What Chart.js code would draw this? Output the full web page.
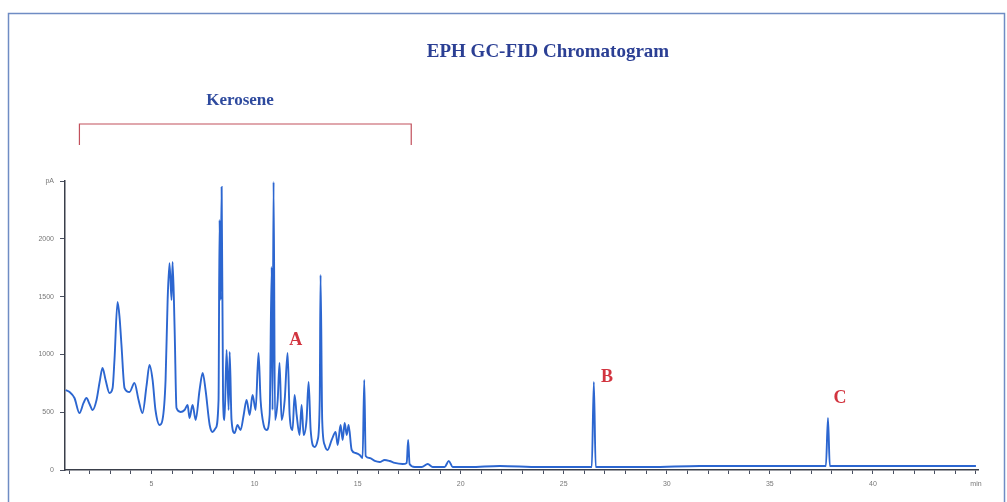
<!DOCTYPE html>
<html>
<head>
<meta charset="utf-8">
<script src="https://cdn.jsdelivr.net/npm/chart.js@4/dist/chart.umd.min.js"></script>
<style>
  html, body { margin: 0; padding: 0; background: #fff; }
  #wrap { width: 1007px; height: 502px; position: relative; }
</style>
</head>
<body>
<div id="wrap"><canvas id="chromatogram" width="1007" height="502"></canvas></div>
<script>
// retention time (min) and detector signal (pA)
var retentionTime = [0.83, 1.02, 1.26, 1.50, 1.70, 1.84, 1.99, 2.14, 2.33, 2.48, 2.62, 2.77, 2.96, 3.11, 3.20, 3.35, 3.45, 3.54, 3.69, 3.93,
    4.17, 4.37, 4.56, 4.76, 4.90, 5.05, 5.19, 5.39, 5.53, 5.68, 5.78, 5.87, 5.97, 6.02, 6.12, 6.21, 6.41, 6.60, 6.75, 6.84,
    6.99, 7.14, 7.33, 7.48, 7.62, 7.82, 7.96, 8.11, 8.25, 8.30, 8.35, 8.40, 8.47, 8.54, 8.64, 8.74, 8.79, 8.88, 9.03, 9.17,
    9.32, 9.47, 9.61, 9.76, 9.90, 10.05, 10.19, 10.29, 10.44, 10.58, 10.73, 10.83, 10.87, 10.92, 10.99, 11.12, 11.21, 11.31, 11.46, 11.60,
    11.70, 11.84, 11.94, 12.04, 12.18, 12.28, 12.38, 12.52, 12.62, 12.72, 12.91, 13.06, 13.16, 13.20, 13.28, 13.40, 13.54, 13.74, 13.93, 14.03,
    14.17, 14.27, 14.37, 14.47, 14.56, 14.71, 14.90, 15.10, 15.24, 15.32, 15.39, 15.58, 15.83, 16.07, 16.31, 16.55, 16.80, 17.18, 17.38, 17.45,
    17.52, 17.77, 18.11, 18.40, 18.64, 19.22, 19.42, 19.61, 20.44, 21.89, 23.83, 26.36, 26.46, 26.55, 29.17, 31.60, 34.51, 37.72, 37.82, 37.91,
    41.31, 45.0];
var signal = [692, 675, 623, 493, 580, 623, 571, 519, 606, 761, 882, 779, 666, 709, 952, 1453, 1315, 1081, 709, 675,
    753, 606, 493, 735, 908, 779, 519, 389, 433, 779, 1471, 1790, 1471, 1799, 1211, 536, 502, 519, 562, 450,
    562, 433, 692, 839, 692, 389, 329, 363, 606, 2163, 1471, 2448, 606, 433, 1038, 519, 1021, 433, 320, 389,
    346, 476, 606, 476, 649, 519, 1012, 606, 389, 346, 476, 1756, 519, 2491, 433, 606, 926, 433, 606, 1012,
    476, 346, 649, 476, 303, 562, 303, 433, 761, 346, 199, 260, 606, 1687, 433, 216, 173, 260, 329, 216,
    389, 260, 407, 303, 389, 173, 147, 130, 104, 779, 121, 104, 78, 69, 87, 78, 61, 52, 61, 260,
    52, 26, 26, 52, 26, 26, 78, 26, 26, 35, 26, 26, 761, 26, 26, 35, 35, 35, 450, 35,
    35, 35];

var yTicks = [0, 500, 1000, 1500, 2000, 2500];
var xTicks = [5, 10, 15, 20, 25, 30, 35, 40, 45];
var xTickLabels = ['5', '10', '15', '20', '25', '30', '35', '40', 'min'];

// marked peaks
var peakNames = ['A', 'B', 'C'];
var peakTime = [12.0, 27.1, 38.4];
var peakSignal = [1125, 805, 623];

// kerosene range bracket
var keroseneStart = 1.5;
var keroseneEnd = 17.6;

var points = retentionTime.map(function (t, i) { return { x: t, y: signal[i] }; });

var decorations = {
    id: 'decorations',
    beforeDraw: function (chart) {
        var c = chart.ctx;
        c.save();
        c.fillStyle = '#ffffff';
        c.fillRect(0, 0, chart.width, chart.height);
        c.strokeStyle = '#6f8cc4';
        c.lineWidth = 1.5;
        c.strokeRect(8.5, 13.5, 996, 495);
        c.restore();
    },
    afterDraw: function (chart) {
        var c = chart.ctx;
        var xs = chart.scales.x, ys = chart.scales.y;
        var top = chart.chartArea.top;
        c.save();
        c.textAlign = 'center';
        c.textBaseline = 'middle';

        c.fillStyle = '#2b3f94';
        c.font = 'bold 19px "Liberation Serif", serif';
        c.fillText('EPH GC-FID Chromatogram', 548, 52);

        var x1 = xs.getPixelForValue(keroseneStart);
        var x2 = xs.getPixelForValue(keroseneEnd);
        c.fillStyle = '#2e4a9e';
        c.font = 'bold 17px "Liberation Serif", serif';
        c.fillText('Kerosene', 240, 101);

        c.strokeStyle = '#c2505c';
        c.lineWidth = 1.2;
        c.beginPath();
        c.moveTo(x1, top - 36);
        c.lineTo(x1, top - 57);
        c.lineTo(x2, top - 57);
        c.lineTo(x2, top - 36);
        c.stroke();

        c.fillStyle = '#d2343f';
        c.font = 'bold 18px "Liberation Serif", serif';
        peakNames.forEach(function (name, i) {
            c.fillText(name, xs.getPixelForValue(peakTime[i]), ys.getPixelForValue(peakSignal[i]));
        });
        c.restore();
    }
};

var ctx = document.getElementById('chromatogram').getContext('2d');
var chart = new Chart(ctx, {
    type: 'line',
    data: {
        datasets: [{
            label: 'FID signal',
            data: points,
            borderColor: '#2c66d0',
            borderWidth: 1.9,
            pointRadius: 0,
            cubicInterpolationMode: 'monotone',
            fill: false
        }]
    },
    options: {
        responsive: false,
        animation: false,
        layout: { padding: { left: 0, right: 29, top: 181, bottom: 0 } },
        plugins: {
            legend: { display: false },
            tooltip: { enabled: false }
        },
        scales: {
            x: {
                type: 'linear',
                min: 0.8,
                max: 45.1,
                afterFit: function (scale) { scale.height = 32; },
                afterBuildTicks: function (scale) {
                    var t = [];
                    for (var m = 1; m <= 45; m++) t.push({ value: m });
                    scale.ticks = t;
                },
                border: { display: true, color: '#3a3f4a', width: 1.5 },
                grid: { drawOnChartArea: false, drawTicks: true, tickLength: 4, color: '#4a5060' },
                ticks: {
                    autoSkip: false,
                    maxRotation: 0,
                    padding: 6,
                    color: '#777',
                    font: { size: 7 },
                    callback: function (value) {
                        var i = xTicks.indexOf(value);
                        return i < 0 ? '' : xTickLabels[i];
                    }
                }
            },
            y: {
                min: 0,
                max: 2500,
                afterFit: function (scale) { scale.width = 65; },
                afterBuildTicks: function (scale) {
                    scale.ticks = yTicks.map(function (v) { return { value: v }; });
                },
                border: { display: true, color: '#3a3f4a', width: 1.5 },
                grid: { drawOnChartArea: false, drawTicks: true, tickLength: 5, color: '#4a5060' },
                ticks: {
                    padding: 6,
                    color: '#777',
                    font: { size: 7 },
                    callback: function (value) {
                        return value === 2500 ? 'pA' : value;
                    }
                }
            }
        }
    },
    plugins: [decorations]
});
</script>
</body>
</html>
